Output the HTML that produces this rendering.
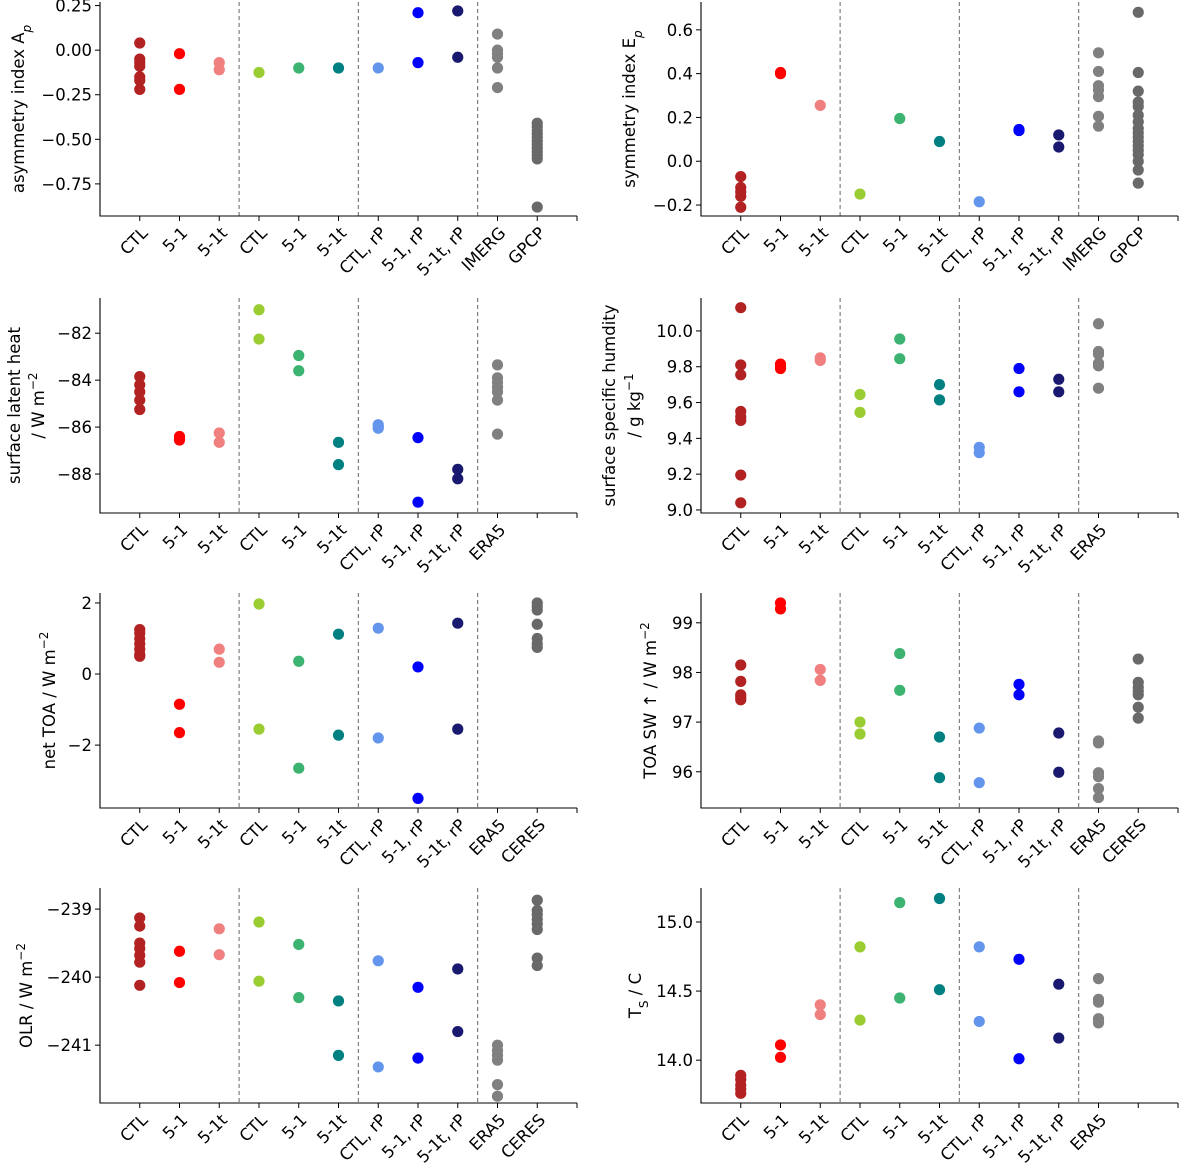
<!DOCTYPE html>
<html><head><meta charset="utf-8">
<style>
html,body{margin:0;padding:0;background:#fff;}
svg{display:block;font-family:"DejaVu Sans","Liberation Sans",sans-serif;}
</style></head>
<body>
<svg id="fig" width="1184" height="1168" viewBox="0 0 1184 1168" xmlns="http://www.w3.org/2000/svg"></svg>
<script>
// ---------- data ----------
const groupColors = ["#b22222","#ff0000","#f08080","#9acd32","#3cb371","#008080","#6495ed","#0000ff","#191970","#808080","#696969"];
const catsPrecip = ["CTL","5-1","5-1t","CTL","5-1","5-1t","CTL, rP","5-1, rP","5-1t, rP","IMERG","GPCP",""];
const catsEra = ["CTL","5-1","5-1t","CTL","5-1","5-1t","CTL, rP","5-1, rP","5-1t, rP","ERA5","",""];
const catsToa = ["CTL","5-1","5-1t","CTL","5-1","5-1t","CTL, rP","5-1, rP","5-1t, rP","ERA5","CERES",""];

const asymValues = [[0.04,-0.05,-0.07,-0.09,-0.15,-0.17,-0.22],[-0.02,-0.22],[-0.07,-0.11],[-0.125],[-0.10],[-0.10],[-0.10],[0.21,-0.07],[0.22,-0.04],[0.09,0.0,-0.02,-0.04,-0.10,-0.21],[-0.41,-0.43,-0.45,-0.47,-0.49,-0.51,-0.53,-0.55,-0.57,-0.59,-0.61,-0.88]];
const asymTicks = [0.25,0,-0.25,-0.5,-0.75];
const asymTickLabels = ["0.25","0.00","−0.25","−0.50","−0.75"];

const symValues = [[-0.07,-0.12,-0.14,-0.16,-0.21],[0.405,0.40],[0.255],[-0.15],[0.195],[0.09],[-0.185],[0.145,0.14],[0.12,0.065],[0.495,0.41,0.345,0.325,0.295,0.205,0.16],[0.68,0.405,0.32,0.27,0.25,0.21,0.18,0.15,0.13,0.11,0.09,0.07,0.05,0.03,0.0,-0.04,-0.1]];
const symTicks = [0.6,0.4,0.2,0,-0.2];
const symTickLabels = ["0.6","0.4","0.2","0.0","−0.2"];

const lhValues = [[-83.85,-84.2,-84.5,-84.85,-85.25],[-86.4,-86.5,-86.55],[-86.25,-86.65],[-81.0,-82.25],[-82.95,-83.6],[-86.65,-87.6],[-85.9,-86.0,-86.05],[-86.45,-89.2],[-87.8,-88.2],[-83.35,-83.9,-84.1,-84.3,-84.5,-84.85,-86.3]];
const lhTicks = [-82,-84,-86,-88];
const lhTickLabels = ["−82","−84","−86","−88"];

const qValues = [[10.13,9.81,9.755,9.55,9.52,9.50,9.195,9.04],[9.815,9.80,9.79],[9.85,9.835],[9.645,9.545],[9.955,9.845],[9.70,9.615],[9.35,9.32],[9.79,9.66],[9.73,9.66],[10.04,9.885,9.87,9.82,9.805,9.68]];
const qTicks = [10.0,9.8,9.6,9.4,9.2,9.0];
const qTickLabels = ["10.0","9.8","9.6","9.4","9.2","9.0"];

const netValues = [[1.25,1.15,1.0,0.85,0.7,0.55,0.5],[-0.85,-1.65],[0.7,0.33],[1.97,-1.55],[0.36,-2.65],[1.12,-1.72],[1.29,-1.8],[0.2,-3.5],[1.43,-1.55],[],[2.0,1.9,1.8,1.4,1.0,0.85,0.75]];
const netTicks = [2,0,-2];
const netTickLabels = ["2","0","−2"];

const swValues = [[98.15,97.82,97.55,97.5,97.45],[99.4,99.28],[98.06,97.84],[97.0,96.76],[98.38,97.64],[96.7,95.88],[96.88,95.78],[97.76,97.55],[96.78,95.99],[96.62,96.58,95.98,95.9,95.66,95.48],[98.27,97.8,97.7,97.62,97.55,97.3,97.08]];
const swTicks = [99,98,97,96];
const swTickLabels = ["99","98","97","96"];

const olrValues = [[-239.13,-239.25,-239.5,-239.58,-239.68,-239.78,-240.12],[-239.62,-240.08],[-239.29,-239.67],[-239.19,-240.06],[-239.52,-240.3],[-240.35,-241.15],[-239.76,-241.32],[-240.15,-241.19],[-239.88,-240.8],[-241.0,-241.08,-241.15,-241.22,-241.58,-241.75],[-238.87,-239.02,-239.08,-239.15,-239.22,-239.3,-239.72,-239.83]];
const olrTicks = [-239,-240,-241];
const olrTickLabels = ["−239","−240","−241"];

const tsValues = [[13.89,13.86,13.82,13.79,13.76],[14.11,14.02],[14.40,14.33],[14.82,14.29],[15.14,14.45],[15.17,14.51],[14.82,14.28],[14.73,14.01],[14.55,14.16],[14.59,14.44,14.42,14.30,14.28,14.27]];
const tsTicks = [15.0,14.5,14.0];
const tsTickLabels = ["15.0","14.5","14.0"];

// ---------- drawing ----------
const NS = "http://www.w3.org/2000/svg";
const fig = document.getElementById("fig");
const FS = 16.5;
function mk(tag, attrs, parent){
  const e = document.createElementNS(NS, tag);
  for (const k in attrs) e.setAttribute(k, attrs[k]);
  (parent||fig).appendChild(e);
  return e;
}

function panel(cfg){
  const g = mk("g", {});
  
  
  const x0 = cfg.x0, x1 = cfg.x0 + 477, yT = cfg.yT, yB = cfg.yB;
  const xs = i => x0 + (i + 1) * (477 / 12);
  const ys = v => yB - (v - cfg.ymin) / (cfg.ymax - cfg.ymin) * (yB - yT);
  [2.5, 5.5, 8.5].forEach(d => {
    const l = mk("line", {x1: xs(d), x2: xs(d), y1: yT, y2: yB, stroke: "#808080", "stroke-width": 1.2, "stroke-dasharray": "4,3"}, g);
    
    
  });
  cfg.values.forEach((arr, gi) => {
    arr.forEach(v => {
      const c = mk("circle", {cx: xs(gi), cy: ys(v), r: 5.6, fill: groupColors[gi]}, g);
      
      
    });
  });
  const ax = mk("path", {d: `M${x0} ${yT} V${yB} H${x1}`, fill: "none", stroke: "#000", "stroke-width": 1.1}, g);
  
  
  cfg.ticks.forEach((t, i) => {
    const y = ys(t);
    mk("line", {x1: x0 - 5, x2: x0, y1: y, y2: y, stroke: "#000", "stroke-width": 1}, g);
    const tl = mk("text", {x: x0 - 8, y: y + 6, "text-anchor": "end", "font-size": FS}, g);
    tl.textContent = cfg.tickLabels[i];
    
    
  });
  cfg.cats.forEach((c, i) => {
    const x = xs(i);
    mk("line", {x1: x, x2: x, y1: yB, y2: yB + 5, stroke: "#000", "stroke-width": 1}, g);
    if (c) {
      const tx = x + 9, ty = yB + 18;
      const xl = mk("text", {x: tx, y: ty, "text-anchor": "end", "font-size": FS, transform: `rotate(-45 ${tx} ${ty})`}, g);
      xl.textContent = c;
      
      
    }
  });
  const cy = (yT + yB) / 2;
  cfg.label.forEach((ln, li) => {
    const lx = cfg.labelX[li];
    const t = mk("text", {x: lx, y: cy, "text-anchor": "middle", "font-size": FS, transform: `rotate(-90 ${lx} ${cy})`}, g);
    t.innerHTML = ln;
    
    
  });
}

const sup = s => `<tspan baseline-shift="super" font-size="12">${s}</tspan>`;
const sub = s => `<tspan baseline-shift="sub" font-size="12" font-style="italic">${s}</tspan>`;

panel({name:"asymmetry-panel", x0:100, yT:2, yB:216, ymin:-0.93, ymax:0.27, values:asymValues, cats:catsPrecip, ticks:asymTicks, tickLabels:asymTickLabels, label:["asymmetry index A"+sub("p")], labelX:[24]});
panel({name:"symmetry-panel", x0:701, yT:2, yB:216, ymin:-0.25, ymax:0.727, values:symValues, cats:catsPrecip, ticks:symTicks, tickLabels:symTickLabels, label:["symmetry index E"+sub("p")], labelX:[635]});
panel({name:"latent-heat-panel", x0:100, yT:298, yB:513, ymin:-89.66, ymax:-80.5, values:lhValues, cats:catsEra, ticks:lhTicks, tickLabels:lhTickLabels, label:["surface latent heat", "/ W m"+sup("−2")], labelX:[20,44]});
panel({name:"humidity-panel", x0:701, yT:298, yB:513, ymin:8.983, ymax:10.184, values:qValues, cats:catsEra, ticks:qTicks, tickLabels:qTickLabels, label:["surface specific humdity", "/ g kg"+sup("−1")], labelX:[615,640]});
panel({name:"net-toa-panel", x0:100, yT:593, yB:808, ymin:-3.77, ymax:2.28, values:netValues, cats:catsToa, ticks:netTicks, tickLabels:netTickLabels, label:["net TOA / W m"+sup("−2")], labelX:[55]});
panel({name:"toa-sw-panel", x0:701, yT:593, yB:808, ymin:95.27, ymax:99.6, values:swValues, cats:catsToa, ticks:swTicks, tickLabels:swTickLabels, label:["TOA SW ↑ / W m"+sup("−2")], labelX:[656]});
panel({name:"olr-panel", x0:100, yT:888, yB:1103, ymin:-241.85, ymax:-238.69, values:olrValues, cats:catsToa, ticks:olrTicks, tickLabels:olrTickLabels, label:["OLR / W m"+sup("−2")], labelX:[32]});
panel({name:"surface-temp-panel", x0:701, yT:888, yB:1103, ymin:13.69, ymax:15.246, values:tsValues, cats:catsEra, ticks:tsTicks, tickLabels:tsTickLabels, label:["T"+`<tspan baseline-shift="sub" font-size="12">S</tspan>`+" / C"], labelX:[641]});
</script>
</body></html>
